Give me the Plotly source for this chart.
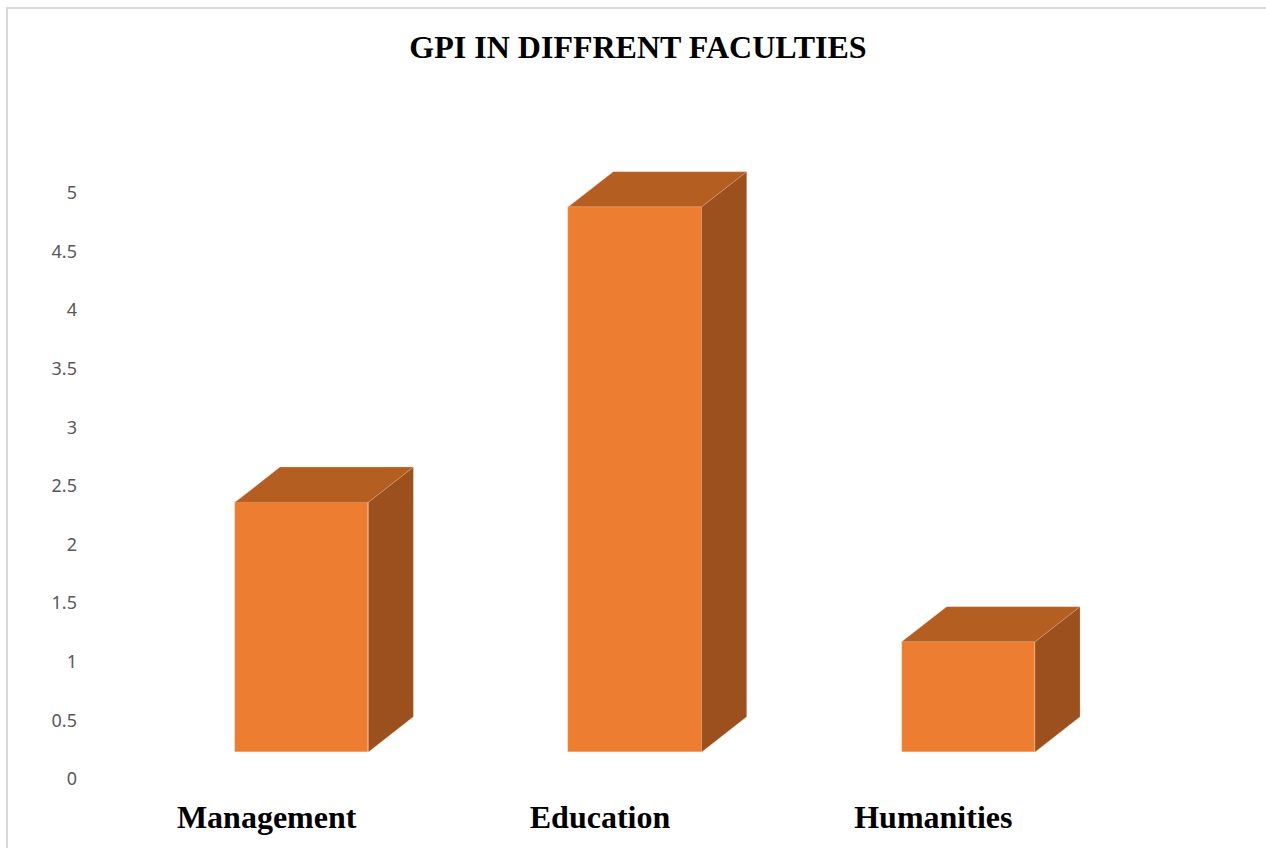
import plotly.graph_objects as go

# ---- data ----
categories = ["Management", "Education", "Humanities"]
gpi_values = [2.13, 4.65, 0.94]
y_tickvals = [0, 0.5, 1, 1.5, 2, 2.5, 3, 3.5, 4, 4.5, 5]
y_ticktext = ["0", "0.5", "1", "1.5", "2", "2.5", "3", "3.5", "4", "4.5", "5"]
chart_title = "GPI IN DIFFRENT FACULTIES"

# ---- style constants (3D look) ----
FRONT = "#ED7D31"
TOP = "#B55E21"
SIDE = "#9B501E"
EDGE = "rgba(246,190,150,0.5)"
FLOOR = 0.23      # apparent floor of the front faces
BAR_W = 0.40      # front face width (x units)
BAR_SHIFT = 0.105 # front face centre offset from category tick
DX = 0.135        # depth in x units
DY = 0.30         # depth in y units

W, H = 1266, 848
ML, MR, MT, MB = 100, 166, 140, 69
Y_RANGE = [0, 5.45]

fig = go.Figure()

xs = list(range(len(categories)))
for i, (cat, v) in enumerate(zip(categories, gpi_values)):
    xc = xs[i] + BAR_SHIFT
    x0, x1 = xc - BAR_W / 2, xc + BAR_W / 2
    top = FLOOR + v
    # side face
    fig.add_trace(go.Scatter(
        x=[x1, x1 + DX, x1 + DX, x1, x1],
        y=[FLOOR, FLOOR + DY, top + DY, top, FLOOR],
        fill="toself", fillcolor=SIDE, mode="lines",
        line=dict(color=EDGE, width=0.5), hoverinfo="skip", showlegend=False))
    # top face
    fig.add_trace(go.Scatter(
        x=[x0, x1, x1 + DX, x0 + DX, x0],
        y=[top, top, top + DY, top + DY, top],
        fill="toself", fillcolor=TOP, mode="lines",
        line=dict(color=EDGE, width=0.5), hoverinfo="skip", showlegend=False))

# front faces
fig.add_trace(go.Bar(
    x=[x + BAR_SHIFT for x in xs], y=gpi_values, base=FLOOR, width=BAR_W,
    marker=dict(color=FRONT, line=dict(color=EDGE, width=0.5)),
    customdata=categories,
    hovertemplate="%{customdata}: %{y}<extra></extra>", showlegend=False))

plot_h = H - MT - MB
plot_w = W - ML - MR
# outer chart border (light grey)
fig.add_shape(type="rect", xref="paper", yref="paper",
              x0=(7 - ML) / plot_w, x1=(1290 - ML) / plot_w,
              y0=(H - MB - 870) / plot_h, y1=(H - MB - 8) / plot_h,
              line=dict(color="#D9D9D9", width=2), fillcolor="rgba(0,0,0,0)",
              layer="below")

fig.update_layout(
    width=W, height=H,
    margin=dict(l=ML, r=MR, t=MT, b=MB),
    paper_bgcolor="white", plot_bgcolor="white",
    title=dict(text=chart_title, x=638 / W, xref="container", xanchor="center",
               y=1 - 47 / H, yref="container", yanchor="middle",
               font=dict(family="Liberation Serif", size=32, color="black", weight="bold")),
    xaxis=dict(range=[-0.5, 2.5], tickvals=xs, ticktext=categories,
               showgrid=False, zeroline=False, showline=False, ticks="",
               ticklabelstandoff=16,
               tickfont=dict(family="Liberation Serif", size=32, color="black", weight="bold")),
    yaxis=dict(range=Y_RANGE, tickvals=y_tickvals, ticktext=y_ticktext,
               showgrid=False, zeroline=False, showline=False, ticks="",
               ticklabelstandoff=22,
               tickfont=dict(family="Noto Sans", size=18, color="#595959")),
    bargap=0,
)

fig.write_html("out.html", config={"displayModeBar": False},
               post_script="document.body.style.margin='0';document.body.style.overflow='hidden';")
